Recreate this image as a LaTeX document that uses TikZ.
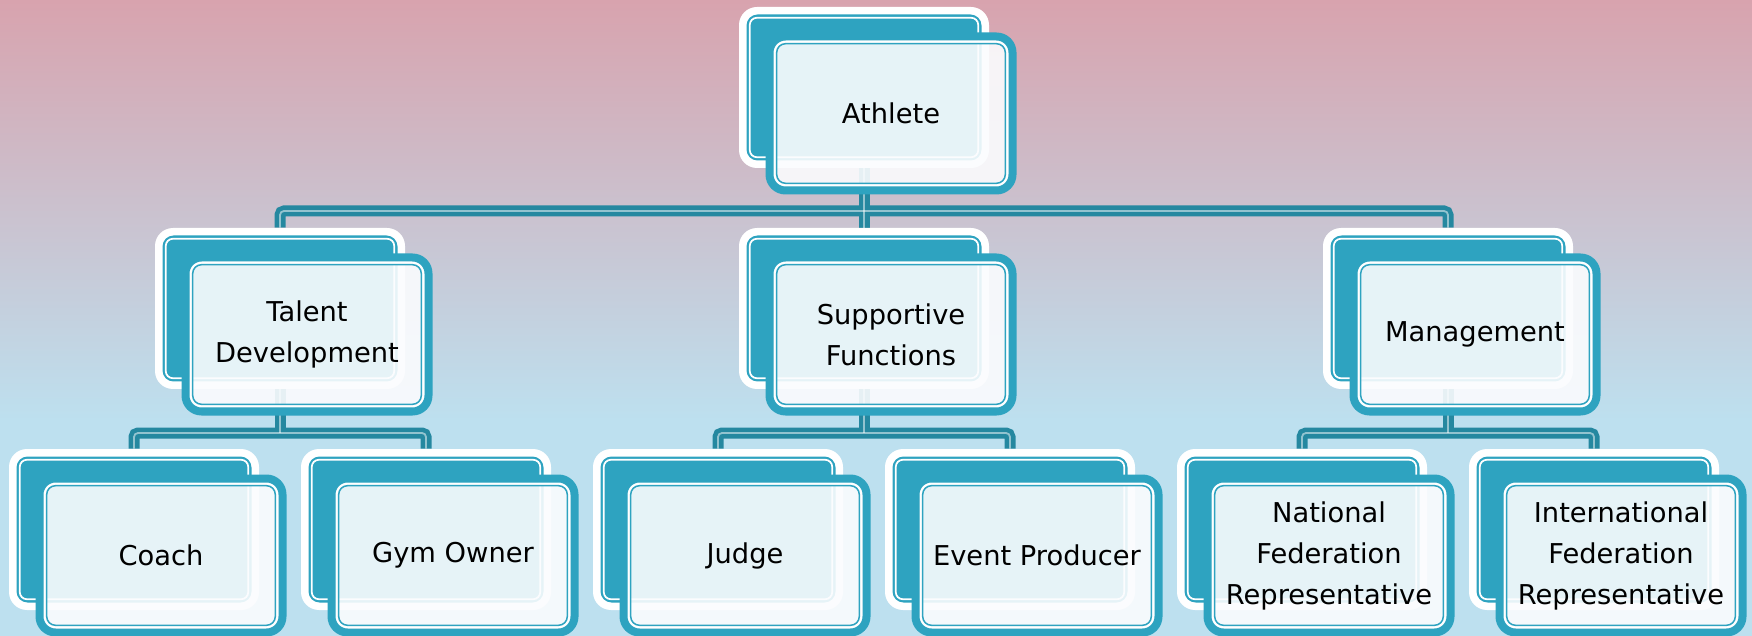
\documentclass[tikz,border=0pt]{standalone}
\usepackage{fontspec}
\setmainfont{DejaVu Sans}
\definecolor{bgtop}{HTML}{D8A3AE}
\definecolor{bgbot}{HTML}{BDE0EF}
\definecolor{boxteal}{HTML}{2EA3C0}
\definecolor{connteal}{HTML}{2588A0}
\definecolor{frontfill}{HTML}{FBFCFE}
\pgfdeclarelayer{background}
\pgfdeclarelayer{connectors}
\pgfsetlayers{background,connectors,main}
\begin{document}
\begin{tikzpicture}[x=0.5pt,y=-0.5pt,
 backbox/.style={rectangle, rounded corners=9pt, fill=white, inner sep=0pt,
   minimum width=125pt, minimum height=80.5pt,
   path picture={
     \fill[boxteal, rounded corners=5.5pt]
       ([shift={(3.75pt,-3.75pt)}]path picture bounding box.north west) rectangle
       ([shift={(-3.75pt,3.75pt)}]path picture bounding box.south east);
     \draw[white, line width=0.85pt, rounded corners=3.5pt]
       ([shift={(5.4pt,-5.4pt)}]path picture bounding box.north west) rectangle
       ([shift={(-5.4pt,5.4pt)}]path picture bounding box.south east);
   }},
 frontbox/.style={rectangle, rounded corners=8pt, draw=boxteal, line width=4pt,
   fill=frontfill, fill opacity=0.9, text opacity=1, inner sep=0pt,
   minimum width=121.5pt, minimum height=77pt, align=center, text=black,
   font=\fontsize{13.65pt}{20.5pt}\selectfont,
   path picture={
     \draw[white, line width=1.25pt, rounded corners=5.4pt]
       ([shift={(2.6pt,-2.6pt)}]path picture bounding box.north west) rectangle
       ([shift={(-2.6pt,2.6pt)}]path picture bounding box.south east);
     \draw[boxteal, line width=0.75pt, rounded corners=4.4pt]
       ([shift={(3.6pt,-3.6pt)}]path picture bounding box.north west) rectangle
       ([shift={(-3.6pt,3.6pt)}]path picture bounding box.south east);
   }},
 conn/.style={draw=connteal, line width=5.5pt, rounded corners=2pt},
 connhl/.style={draw=white, draw opacity=0.5, line width=0.9pt, rounded corners=2pt},
]
\useasboundingbox (0,0) rectangle (1752,636);
\begin{pgfonlayer}{background}
  \shade[top color=bgtop, bottom color=bgbot] (0,0) rectangle (1752,421);
  \fill[bgbot] (0,420) rectangle (1752,636);
\end{pgfonlayer}

% level 1
\node[backbox] (athB) at (864,87.5) {};
\node[frontbox] (ath) at (891,113.5) {Athlete};
% level 2
\node[backbox] (tdB) at (280,308.5) {};
\node[frontbox] (td) at (307,334.5) {Talent\\Development};
\node[backbox] (sfB) at (864,308.5) {};
\node[frontbox] (sf) at (891,334.5) {Supportive\\Functions};
\node[backbox] (mB) at (1448,308.5) {};
\node[frontbox] (m) at (1475,334.5) {Management};
% level 3
\node[backbox] (coB) at (134,529.5) {};
\node[frontbox] (co) at (161,555.5) {Coach};
\node[backbox] (gyB) at (426,529.5) {};
\node[frontbox] (gy) at (453,555.5) {Gym Owner};
\node[backbox] (juB) at (718,529.5) {};
\node[frontbox] (ju) at (745,555.5) {Judge};
\node[backbox] (evB) at (1010,529.5) {};
\node[frontbox] (ev) at (1037,555.5) {Event Producer};
\node[backbox] (naB) at (1302,529.5) {};
\node[frontbox] (na) at (1329,555.5) {National\\Federation\\Representative};
\node[backbox] (inB) at (1594,529.5) {};
\node[frontbox] (in) at (1621,555.5) {International\\Federation\\Representative};

\coordinate (j1) at (864,211);
\coordinate (j2) at (864,433);

\begin{pgfonlayer}{connectors}
  \foreach \sty/\dx in {conn/0,connhl/-2}{
    \begin{scope}[shift={(\dx,\dx)}]
      \draw[\sty] (athB.south) -- (sfB.north);
      \draw[\sty] (tdB.north) -- (tdB.north |- j1) -- (mB.north |- j1) -- (mB.north);
      \draw[\sty] (tdB.south) -- (tdB.south |- j2);
      \draw[\sty] (coB.north) -- (coB.north |- j2) -- (gyB.north |- j2) -- (gyB.north);
      \draw[\sty] (sfB.south) -- (sfB.south |- j2);
      \draw[\sty] (juB.north) -- (juB.north |- j2) -- (evB.north |- j2) -- (evB.north);
      \draw[\sty] (mB.south) -- (mB.south |- j2);
      \draw[\sty] (naB.north) -- (naB.north |- j2) -- (inB.north |- j2) -- (inB.north);
    \end{scope}
  }
\end{pgfonlayer}
\end{tikzpicture}
\end{document}
